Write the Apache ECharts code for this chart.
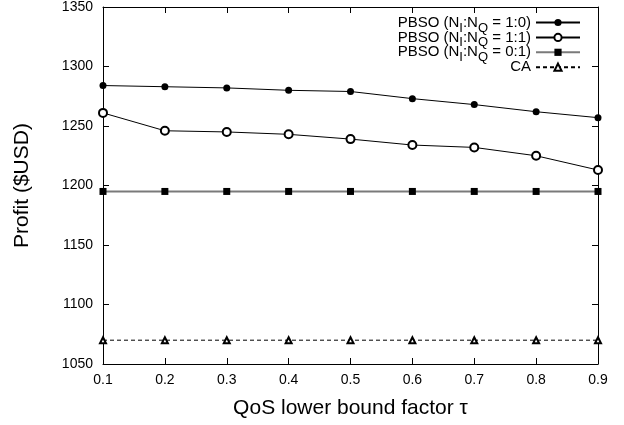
<!DOCTYPE html>
<html>
<head>
<meta charset="utf-8">
<script src="https://cdn.jsdelivr.net/npm/echarts@6/dist/echarts.min.js"></script>
<style>
  html, body { margin: 0; padding: 0; background: #fff; }
  #chart { width: 624px; height: 425px; }
</style>
</head>
<body>
<div id="chart"></div>
<script>
// QoS lower bound factor values on the x axis
const tau = [0.1, 0.2, 0.3, 0.4, 0.5, 0.6, 0.7, 0.8, 0.9];

// Profit ($USD) for each scheme
const pbso10 = [1284, 1283, 1282, 1280, 1279, 1273, 1268, 1262, 1257];
const pbso11 = [1261, 1246, 1245, 1243, 1239, 1234, 1232, 1225, 1213];
const pbso01 = [1195, 1195, 1195, 1195, 1195, 1195, 1195, 1195, 1195];
const caProfit = [1070, 1070, 1070, 1070, 1070, 1070, 1070, 1070, 1070];

// Series names and the N_I:N_Q ratios shown in the legend
const seriesNames = ['PBSO 1:0', 'PBSO 1:1', 'PBSO 0:1', 'CA'];
const ratios = ['1:0', '1:1', '0:1'];

// Axis ranges and steps
const yMin = 1050, yMax = 1350, yStep = 50;
const xMin = 0.1, xMax = 0.9, xStep = 0.1;

const FONT = "'Liberation Sans', Arial, Helvetica, sans-serif";

function pairs(values) {
  return tau.map((t, i) => [t, values[i]]);
}

// Legend text with subscripted I and Q
function legendLabel(name) {
  const idx = seriesNames.indexOf(name);
  if (idx >= 0 && idx < ratios.length) {
    return '{m|PBSO (N}{s|I}{m|:N}{s|Q}{m| = ' + ratios[idx] + ')}';
  }
  return '{m|' + name + '}';
}

const chart = echarts.init(document.getElementById('chart'), null, { renderer: 'canvas' });

const axisLine = { show: true, onZero: false, lineStyle: { color: '#000', width: 1 } };
const tickIn = { show: true, inside: true, length: 6, lineStyle: { color: '#000', width: 1 } };

chart.setOption({
  animation: false,
  backgroundColor: '#fff',
  textStyle: { fontFamily: FONT },
  grid: { left: 103, right: 26, top: 7, bottom: 61, containLabel: false },
  legend: {
    orient: 'vertical',
    right: 43,
    top: 15,
    padding: 0,
    align: 'right',
    itemWidth: 44,
    itemHeight: 9,
    itemGap: -4.6,
    data: seriesNames,
    formatter: legendLabel,
    textStyle: {
      color: '#000',
      lineHeight: 14,
      rich: {
        m: { fontSize: 15, fontFamily: FONT, color: '#000', lineHeight: 14, verticalAlign: 'middle' },
        // subscript: a short token box pinned to the bottom of the line
        s: { fontSize: 13, fontFamily: FONT, color: '#000', lineHeight: 14, height: 3, verticalAlign: 'bottom' }
      }
    }
  },
  xAxis: [
    {
      type: 'value', position: 'bottom', min: xMin, max: xMax, interval: xStep,
      axisLine: axisLine, axisTick: tickIn, splitLine: { show: false },
      axisLabel: { color: '#000', fontSize: 14, fontFamily: FONT, margin: 9,
        formatter: v => v.toFixed(1) },
      name: 'QoS lower bound factor \u03c4', nameLocation: 'middle', nameGap: 34,
      nameTextStyle: { color: '#000', fontSize: 21, fontFamily: FONT }
    },
    {
      type: 'value', position: 'top', min: xMin, max: xMax, interval: xStep,
      axisLine: axisLine, axisTick: tickIn, splitLine: { show: false },
      axisLabel: { show: false }
    }
  ],
  yAxis: [
    {
      type: 'value', position: 'left', min: yMin, max: yMax, interval: yStep,
      axisLine: axisLine, axisTick: tickIn, splitLine: { show: false },
      axisLabel: { color: '#000', fontSize: 14, fontFamily: FONT, margin: 10,
        formatter: v => String(v) },
      name: 'Profit ($USD)', nameLocation: 'middle', nameGap: 70, nameRotate: 90,
      nameTextStyle: { color: '#000', fontSize: 21, fontFamily: FONT }
    },
    {
      type: 'value', position: 'right', min: yMin, max: yMax, interval: yStep,
      axisLine: axisLine, axisTick: tickIn, splitLine: { show: false },
      axisLabel: { show: false }
    }
  ],
  series: [
    {
      name: seriesNames[0], type: 'line', data: pairs(pbso10),
      symbol: 'circle', symbolSize: 7,
      itemStyle: { color: '#000' },
      lineStyle: { color: '#000', width: 1 }
    },
    {
      name: seriesNames[1], type: 'line', data: pairs(pbso11),
      symbol: 'emptyCircle', symbolSize: 8,
      itemStyle: { color: '#000', borderColor: '#000', borderWidth: 1 },
      lineStyle: { color: '#000', width: 1 }
    },
    {
      name: seriesNames[2], type: 'line', data: pairs(pbso01),
      symbol: 'rect', symbolSize: 7,
      itemStyle: { color: '#000' },
      lineStyle: { color: '#7a7a7a', width: 2 }
    },
    {
      name: seriesNames[3], type: 'line', data: pairs(caProfit),
      symbol: 'emptyTriangle', symbolSize: 6,
      itemStyle: { color: '#000', borderColor: '#000', borderWidth: 1 },
      lineStyle: { color: '#000', width: 1, type: [4, 3] }
    }
  ]
});
</script>
</body>
</html>
